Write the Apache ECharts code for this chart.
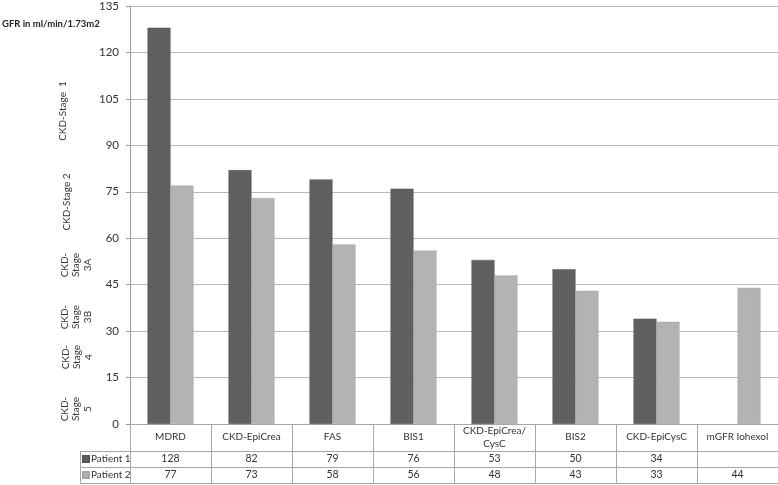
<!DOCTYPE html>
<html>
<head>
<meta charset="utf-8">
<script src="https://cdn.jsdelivr.net/npm/echarts@6/dist/echarts.min.js"></script>
<style>
  html, body { margin: 0; padding: 0; background: #fff; }
  #chart { width: 778px; height: 485px; }
</style>
</head>
<body>
<div id="chart"></div>
<script>
// chart data
var categories = ['MDRD', 'CKD-EpiCrea', 'FAS', 'BIS1', 'CKD-EpiCrea/\nCysC', 'BIS2', 'CKD-EpiCysC', 'mGFR Iohexol']
var patient1 = [128, 82, 79, 76, 53, 50, 34, null]
var patient2 = [77, 73, 58, 56, 48, 43, 33, 44]
var seriesNames = ['Patient 1', 'Patient 2']
var yTicks = { min: 0, max: 135, interval: 15 }
var stageLabels = ['CKD-Stage  1', 'CKD-Stage 2', 'CKD-\nStage\n3A', 'CKD-\nStage\n3B', 'CKD-\nStage\n4', 'CKD-\nStage\n5']
var yTitle = 'GFR in ml/min/1.73m2'

var font = 'Lato'
var lineColor = '#a8a8a8'
var stagePos = [[63, 111], [67, 202], [76, 265], [76, 317], [77, 357], [76, 409]]

var chart = echarts.init(document.getElementById('chart'))

var graphics = [
  { type: 'text', left: 2, top: 19, style: { text: yTitle, font: 'bold 9.5px ' + font, fill: '#222' } },
  // left cell of the data table
  { type: 'line', shape: { x1: 80, y1: 451.5, x2: 130, y2: 451.5 }, style: { stroke: lineColor } },
  { type: 'line', shape: { x1: 80, y1: 467.5, x2: 130, y2: 467.5 }, style: { stroke: lineColor } },
  { type: 'line', shape: { x1: 80, y1: 483.5, x2: 130, y2: 483.5 }, style: { stroke: lineColor } },
  { type: 'line', shape: { x1: 80.5, y1: 451, x2: 80.5, y2: 484 }, style: { stroke: lineColor } }
]
stageLabels.forEach(function (t, i) {
  graphics.push({
    type: 'text',
    x: stagePos[i][0],
    y: stagePos[i][1],
    rotation: Math.PI / 2,
    style: { text: t, font: '10px ' + font, fill: '#333', align: 'center', verticalAlign: 'middle', lineHeight: 11.5 }
  })
})

function rowAxis (offset, values) {
  return {
    type: 'category',
    position: 'bottom',
    offset: offset,
    data: categories,
    axisLine: { show: true, lineStyle: { color: lineColor } },
    axisTick: { show: false },
    axisLabel: {
      show: values !== null,
      interval: 0,
      margin: 8,
      verticalAlign: 'middle',
      fontFamily: font,
      fontSize: 10.5,
      color: '#333',
      formatter: function (v, i) {
        var x = values ? values[i] : null
        return x === null || x === undefined ? '' : String(x)
      }
    }
  }
}

var option = {
  animation: false,
  color: ['#606060', '#b3b3b3'],
  grid: { left: 130, right: 0, top: 4, bottom: 61, containLabel: false },
  legend: {
    orient: 'vertical',
    left: 82,
    top: 453,
    padding: 0,
    itemWidth: 6,
    itemHeight: 6,
    itemGap: 4,
    icon: 'rect',
    textStyle: { fontFamily: font, fontSize: 10, lineHeight: 12, color: '#333', padding: [0, 0, 0, -3] },
    data: seriesNames
  },
  graphic: graphics,
  xAxis: [
    {
      type: 'category',
      position: 'bottom',
      data: categories,
      axisLine: { show: true, lineStyle: { color: lineColor } },
      axisTick: { show: true, interval: 0, length: 59, lineStyle: { color: lineColor } },
      axisLabel: {
        interval: 0,
        margin: 13,
        verticalAlign: 'middle',
        fontFamily: font,
        fontSize: 10,
        lineHeight: 13,
        color: '#333'
      }
    },
    rowAxis(27, patient1),
    rowAxis(43, patient2),
    rowAxis(59, null)
  ],
  yAxis: {
    type: 'value',
    min: yTicks.min,
    max: yTicks.max,
    interval: yTicks.interval,
    axisLine: { show: true, lineStyle: { color: '#999' } },
    axisTick: { show: true, length: 4, lineStyle: { color: '#999' } },
    axisLabel: { margin: 11, fontFamily: font, fontSize: 11.5, color: '#333' },
    splitLine: { lineStyle: { color: '#b8b8b8' } }
  },
  series: [
    {
      name: seriesNames[0],
      type: 'bar',
      barWidth: 23,
      barGap: '0%',
      data: patient1,
      itemStyle: { borderColor: '#555', borderWidth: 0.5 }
    },
    {
      name: seriesNames[1],
      type: 'bar',
      barWidth: 23,
      barGap: '0%',
      data: patient2,
      itemStyle: { borderColor: '#a5a5a5', borderWidth: 0.5 }
    }
  ]
}

chart.setOption(option)
</script>
</body>
</html>
